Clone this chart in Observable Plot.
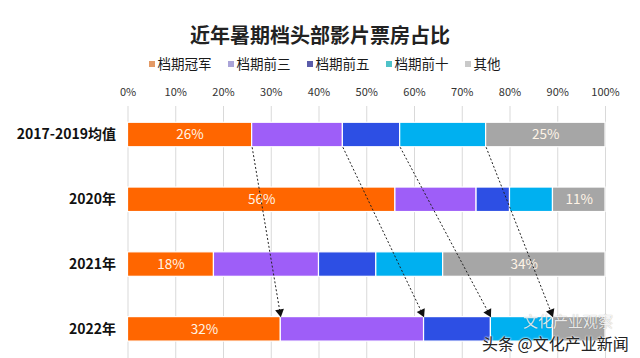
<!DOCTYPE html>
<html><head><meta charset="utf-8">
<script src="https://cdn.jsdelivr.net/npm/d3@7"></script>
<script src="https://cdn.jsdelivr.net/npm/@observablehq/plot@0.6"></script>
<style>
body{margin:0;background:#fff;font-family:"Noto Sans CJK SC","Noto Sans",sans-serif;}
#wrap{position:relative;width:640px;height:358px;overflow:hidden;}
#title{position:absolute;left:0;top:21px;width:640px;text-align:center;font-size:20px;font-weight:700;line-height:28px;color:#222;}
#legend{position:absolute;left:0;top:54px;width:640px;box-sizing:border-box;padding-left:9px;display:flex;justify-content:center;gap:16px;font-size:13.5px;line-height:18px;color:#1a1a1a;}
#legend .sw{display:inline-block;width:6px;height:6px;margin-right:3px;vertical-align:middle;position:relative;top:-1px;}
#chart{position:absolute;left:0;top:76px;}
#wm1{position:absolute;left:523px;top:313px;font-size:15px;line-height:16px;color:rgba(255,255,255,0.85);white-space:nowrap;text-shadow:0 0 1px rgba(0,0,0,0.35);}
#wm2{position:absolute;left:482px;top:335px;font-size:16px;line-height:16px;color:#222;white-space:nowrap;text-shadow:0 0 2px #fff,0 0 2px #fff;}
</style></head>
<body>
<div id="wrap">
  <div id="title"></div>
  <div id="legend"></div>
  <div id="chart"></div>
  <div id="wm1">文化产业观察</div>
  <div id="wm2">头条 @文化产业新闻</div>
</div>
<script>
const titleText = "近年暑期档头部影片票房占比";
const years = ["2017-2019均值", "2020年", "2021年", "2022年"];
const series = ["档期冠军", "档期前三", "档期前五", "档期前十", "其他"];
const colors = ["#ff6600", "#9e5ef8", "#2d4fe4", "#00b0f0", "#a6a6a6"];
const legendColors = ["#e39a66", "#aaa4d8", "#5b5caa", "#4fc2c8", "#c9c9c9"];
const champion = [26, 56, 18, 32];
const top3 = [19, 17, 22, 30];
const top5 = [12, 7, 12, 14];
const top10 = [18, 9, 14, 13];
const others = [25, 11, 34, 11];
const xTicks = [0, 10, 20, 30, 40, 50, 60, 70, 80, 90, 100];

document.getElementById("title").textContent = titleText;
const legend = document.getElementById("legend");
series.forEach((s, j) => {
  const item = document.createElement("span");
  item.innerHTML = `<span class="sw" style="background:${legendColors[j]}"></span>${s}`;
  legend.appendChild(item);
});

const valuesBySeries = [champion, top3, top5, top10, others];
const data = [];
years.forEach((year, i) => {
  series.forEach((s, j) => {
    data.push({i, year, series: s, value: valuesBySeries[j][i]});
  });
});

const h = 0.189; // half bar thickness in row units
const rowValues = i => valuesBySeries.map(v => v[i]);
const startCum = Array.from(d3.cumsum(rowValues(0)));
const endCum = Array.from(d3.cumsum(rowValues(3)));
const arrows = [0, 1, 2, 3].map(j => ({x1: startCum[j], x2: endCum[j], y1: 0 + h, y2: 3 - h}));

const W = 640, H = 282, mL = 127.5, mR = 35, mT = 30, mB = 0;
const yDomain = [-0.44, 3.45];
const pxX = (W - mL - mR) / 100;
const pxY = (H - mT - mB) / (yDomain[1] - yDomain[0]);
const tip = 5.1;
const heads = arrows.map(a => {
  const th = Math.atan2((a.x2 - a.x1) * pxX, (a.y2 - a.y1) * pxY);
  return Plot.dot([a], {
    x: "x2", y: "y2", symbol: "triangle", r: 3.3, fill: "#111", stroke: "none",
    rotate: 180 - th * 180 / Math.PI,
    dx: -tip * Math.sin(th), dy: -tip * Math.cos(th)
  });
});

const showLabel = d => d.series === "档期冠军" || (d.series === "其他" && d.i < 3);

const chart = Plot.plot({
  width: W, height: H,
  marginLeft: mL, marginRight: mR, marginTop: mT, marginBottom: mB,
  style: {fontFamily: '"Noto Sans CJK SC","Noto Sans",sans-serif', color: "#333", background: "transparent"},
  x: {domain: [0, 100]},
  y: {domain: yDomain, reverse: true},
  color: {domain: series, range: colors},
  marks: [
    Plot.ruleX(xTicks, {stroke: "#d9d9d9", strokeWidth: 1}),
    Plot.axisX({anchor: "top", ticks: xTicks, tickFormat: d => d + "%", tickSize: 0, tickPadding: 11, fontSize: 11, label: null, fill: "#333"}),
    Plot.axisY({ticks: [0, 1, 2, 3], tickFormat: i => years[i], tickSize: 0, tickPadding: 12, fontSize: 14, fontWeight: "bold", label: null, fill: "#111"}),
    Plot.rectX(data, Plot.stackX({x: "value", y1: d => d.i - h, y2: d => d.i + h, y: "i", fill: "series", stroke: "white", strokeWidth: 1.2})),
    Plot.text(data, Plot.stackX({x: "value", y: "i", text: d => showLabel(d) ? d.value + "%" : null, fill: "#fff4e6", fontSize: 13.5})),
    Plot.link(arrows, {x1: "x1", y1: "y1", x2: "x2", y2: "y2", stroke: "#222", strokeWidth: 1, strokeDasharray: "2,2"}),
    ...heads
  ]
});
document.getElementById("chart").appendChild(chart);
</script>
</body></html>
